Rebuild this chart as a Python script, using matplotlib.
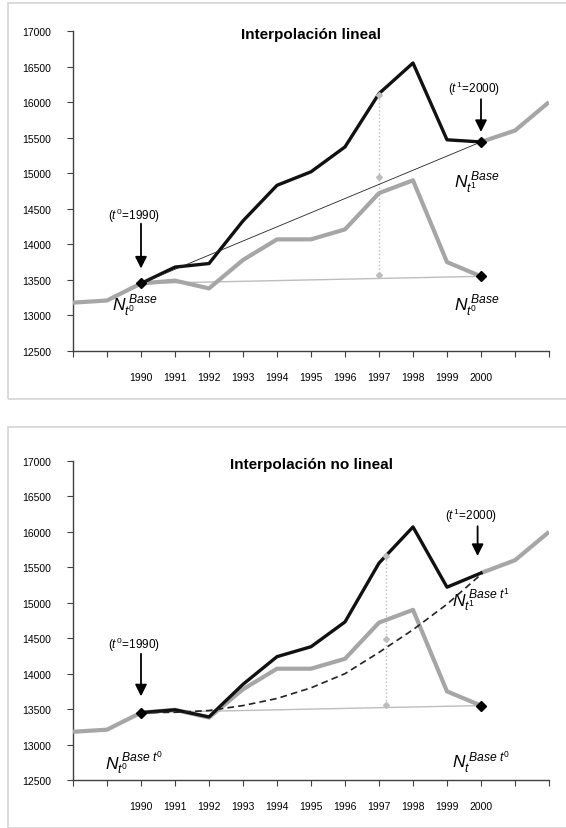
import matplotlib
matplotlib.use("Agg")
import matplotlib.pyplot as plt
from matplotlib.patches import Rectangle

plt.rcParams['font.family'] = ['Liberation Sans Narrow', 'Liberation Sans', 'DejaVu Sans']
plt.rcParams['mathtext.fontset'] = 'custom'
plt.rcParams['mathtext.it'] = 'Liberation Sans:italic'
plt.rcParams['mathtext.rm'] = 'Liberation Sans'

# ---------------- data ----------------
all_years = list(range(1988, 2003))
tick_labels = ['', ''] + [str(y) for y in range(1990, 2001)] + ['', '']
years_in = list(range(1990, 2001))

# overall (grey thick) series outside the interval
pre_years = [1988, 1989, 1990]
pre_vals = [13180, 13210, 13450]
post_years = [2000, 2001, 2002]
post_vals_top = [15440, 15600, 16000]
post_vals_bot = [15420, 15600, 16000]

# base t0 series (grey) in the interval
grey_in = [13450, 13490, 13380, 13780, 14070, 14070, 14210, 14720, 14900, 13750, 13550]
# base t1 series (black) - linear panel
black_top = [13450, 13680, 13730, 14330, 14830, 15020, 15370, 16120, 16550, 15470, 15440]
# base t1 series (black) - non linear panel
black_bot = [13450, 13490, 13390, 13850, 14240, 14380, 14730, 15560, 16070, 15220, 15420]
# non linear interpolation curve
curve_bot = [13450, 13455, 13480, 13550, 13650, 13800, 14000, 14300, 14620, 14980, 15400]

# vertical guide markers
guide_top_x = 1997
guide_top_vals = [16100, 14950, 13570]
guide_bot_x = 1997.2
guide_bot_vals = [15660, 14490, 13560]

GREY = '#a6a6a6'
LGREY = '#bdbdbd'

W, H = 566, 829
fig = plt.figure(figsize=(W / 100, H / 100), dpi=100)

# panel frames
for (y0, y1) in [(4, 400), (428, 829)]:
    fig.patches.append(Rectangle((8 / W, 1 - y1 / H), 1.2, (y1 - y0) / H,
                                 transform=fig.transFigure, fill=False,
                                 edgecolor='#d4d4d4', lw=1.2, zorder=0))


def setup(ax, title):
    ax.set_xlim(1988, 2002)
    ax.set_ylim(12500, 17000)
    ax.set_yticks(range(12500, 17001, 500))
    ax.set_xticks(all_years)
    ax.set_xticklabels(tick_labels)
    ax.tick_params(axis='x', direction='out', length=4, pad=11, labelsize=7.5, color='#404040')
    ax.tick_params(axis='y', direction='out', length=4, pad=12, labelsize=7.5, color='#404040')
    for s in ['top', 'right']:
        ax.spines[s].set_visible(False)
    for s in ['left', 'bottom']:
        ax.spines[s].set_color('#404040')
        ax.spines[s].set_linewidth(1.0)
    ax.set_title(title, fontsize=11, fontweight='bold', family=['Liberation Sans', 'DejaVu Sans'],
                 y=0.985, va='top')


def arrow(ax, x, y_from, y_to):
    ax.annotate('', xy=(x, y_to), xytext=(x, y_from),
                arrowprops=dict(arrowstyle='-|>,head_width=0.35,head_length=0.7',
                                lw=1.3, color='black', shrinkA=0, shrinkB=0), zorder=6)


def ann(ax, x, y, s):
    ax.text(x, y, s, fontsize=8.5, ha='center', va='center')


# ---------------- top panel ----------------
ax1 = fig.add_axes([73 / W, 1 - 352 / H, 476 / W, 320 / H])
setup(ax1, 'Interpolación lineal')
ax1.plot(pre_years, pre_vals, color=GREY, lw=3.0, solid_capstyle='butt', zorder=3)
ax1.plot(post_years, post_vals_top, color=GREY, lw=3.0, solid_capstyle='butt', zorder=3)
ax1.plot(years_in, grey_in, color=GREY, lw=3.0, zorder=3)
ax1.plot(years_in, black_top, color='#111111', lw=2.4, zorder=4)
ax1.plot([1990, 2000], [black_top[0], black_top[-1]], color='#222222', lw=0.6, zorder=4)
ax1.plot([1990, 2000], [grey_in[0], grey_in[-1]], color=LGREY, lw=1.0, zorder=2)
ax1.plot([guide_top_x, guide_top_x], [guide_top_vals[0], guide_top_vals[-1]],
         color=LGREY, lw=1.0, ls=':', zorder=2)
ax1.plot([guide_top_x] * 3, guide_top_vals, ls='none', marker='D', ms=3,
         color=LGREY, zorder=5)
ax1.plot([1990, 2000, 2000], [black_top[0], black_top[-1], grey_in[-1]], ls='none',
         marker='D', ms=5.5, color='black', zorder=6)
arrow(ax1, 1990, 14290, 13660)
arrow(ax1, 2000, 16040, 15580)
ann(ax1, 1989.8, 14410, r'$(t^{0}\!=\!\mathit{1990})$')
ann(ax1, 1999.8, 16200, r'$(t^{1}\!=\!\mathit{2000})$')
ax1.text(1989.15, 13150, r'$N_{t^{0}}^{\;Base}$', fontsize=12.5, ha='left', va='center')
ax1.text(1999.2, 14870, r'$N_{t^{1}}^{\;Base}$', fontsize=12.5, ha='left', va='center')
ax1.text(1999.2, 13150, r'$N_{t^{0}}^{\;Base}$', fontsize=12.5, ha='left', va='center')

# ---------------- bottom panel ----------------
ax2 = fig.add_axes([73 / W, 1 - 781 / H, 476 / W, 319 / H])
setup(ax2, 'Interpolación no lineal')
ax2.plot(pre_years, pre_vals, color=GREY, lw=3.0, solid_capstyle='butt', zorder=3)
ax2.plot(post_years, post_vals_bot, color=GREY, lw=3.0, solid_capstyle='butt', zorder=3)
ax2.plot(years_in, grey_in, color=GREY, lw=3.0, zorder=3)
ax2.plot(years_in, black_bot, color='#111111', lw=2.4, zorder=4)
ax2.plot(years_in, curve_bot, color='#222222', lw=1.2, ls=(0, (4, 2.5)), zorder=5)
ax2.plot([1990, 2000], [grey_in[0], grey_in[-1]], color=LGREY, lw=1.0, zorder=2)
ax2.plot([guide_bot_x, guide_bot_x], [guide_bot_vals[0], guide_bot_vals[-1]],
         color=LGREY, lw=1.0, ls=':', zorder=2)
ax2.plot([guide_bot_x] * 3, guide_bot_vals, ls='none', marker='D', ms=3,
         color=LGREY, zorder=5)
ax2.plot([1990, 2000], [black_bot[0], grey_in[-1]], ls='none',
         marker='D', ms=5.5, color='black', zorder=6)
arrow(ax2, 1990, 14280, 13680)
arrow(ax2, 1999.9, 16080, 15660)
ann(ax2, 1989.8, 14420, r'$(t^{0}\!=\!\mathit{1990})$')
ann(ax2, 1999.7, 16240, r'$(t^{1}\!=\!\mathit{2000})$')
ax2.text(1988.95, 12760, r'$N_{t^{0}}^{\;Base\;t^{0}}$', fontsize=12.5, ha='left', va='center')
ax2.text(1999.15, 15060, r'$N_{t^{1}}^{\;Base\;t^{1}}$', fontsize=12.5, ha='left', va='center')
ax2.text(1999.15, 12760, r'$N_{t}^{\;Base\;t^{0}}$', fontsize=12.5, ha='left', va='center')

fig.savefig('out.png', dpi=100)
